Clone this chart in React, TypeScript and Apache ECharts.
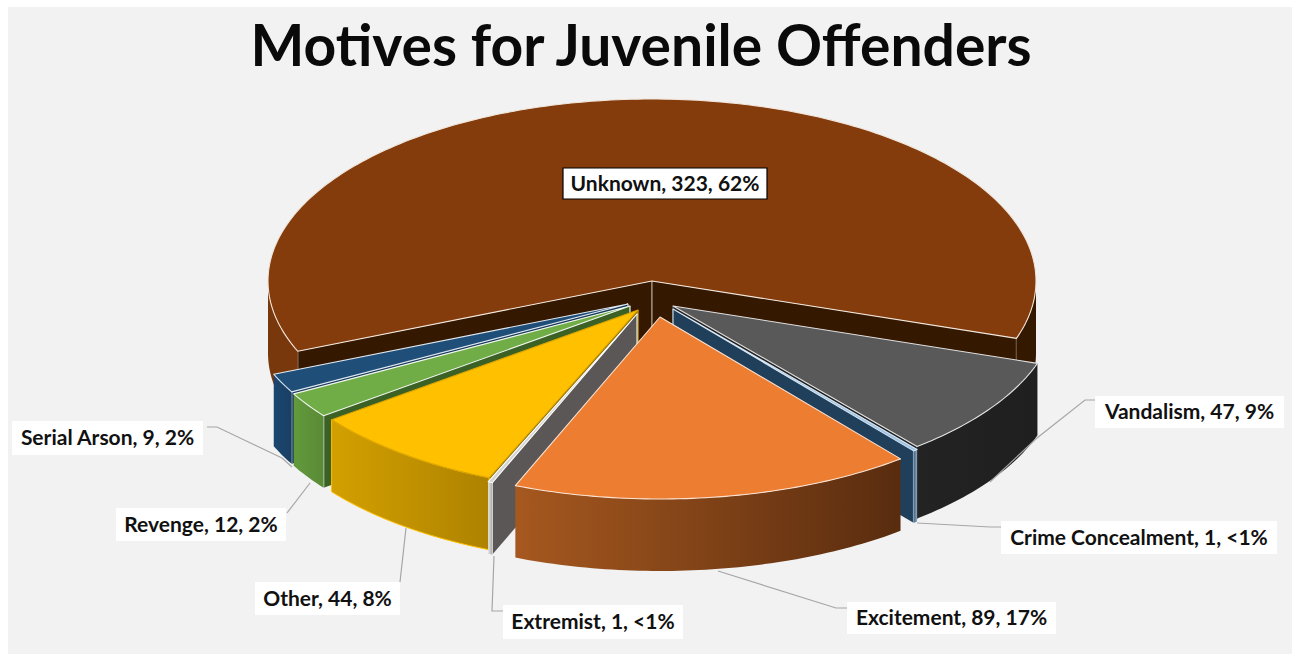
import React, { useEffect, useRef } from "react";
import * as echarts from "echarts";

const titleText = "Motives for Juvenile Offenders";
const categories = ["Unknown", "Vandalism", "Crime Concealment", "Excitement", "Extremist", "Other", "Revenge", "Serial Arson"];
const values = [323, 47, 1, 89, 1, 44, 12, 9];
const percentLabels = ["62%", "9%", "<1%", "17%", "<1%", "8%", "2%", "2%"];

// painter's order: far slices first
const drawOrder = [0, 1, 2, 7, 6, 5, 4, 3];
const firstAngle = 247.3;

// styles per slice (same order as categories)
const topColors = ["#843c0c", "#595959", "#9dc3e6", "#ed7d31", "#d4d4d4", "#ffc000", "#70ad47", "#1f4e79"];
const sideColors = [
  ["#78380b", "#351800"], ["#232323", "#1f1f1f"], ["#3b5f7e", "#8fa9c0"], ["#a6581f", "#592c0f"],
  ["#e4e4e4", "#a8a8a8"], ["#d3a000", "#ae8200"], ["#629a3c", "#5a8a36"], ["#1b4670", "#1a3f63"],
];
const wallColors = ["#351800", "#222222", "#203f5a", "#5c2e10", "#5b5757", "#8a6a00", "#3c6124", "#17395a"];
const edgeColors = ["#f1e6dc", "#e0e0e0", "#d6e6f5", "#fbe3d2", "#ffffff", "#d9a400", "#f2f7ee", "#dfe8f0"];
const seamColors = ["#a8988a", "#555555", "#c5d5e3", "#fbe3d2", "#e8e8e8", "#d9a400", "#eef3ea", "#c9d2da"];

// layout in page pixels; the chart's div starts at (8, 7)
const PAGE_X = 8;
const PAGE_Y = 7;
const radiusX = 384;
const radiusY = 182;
const depth = 72;
// exploded position of each slice's apex
const apexes = [[652, 281], [673, 306], [673, 309], [660, 317], [637, 314], [638, 310], [630, 306], [628, 304]];

const labelBoxes = [
  [563, 168, 204, 31], [1095, 396, 189, 32], [1001, 521, 276, 33], [847, 602, 209, 32],
  [503, 605, 180, 34], [255, 582, 145, 33], [116, 508, 170, 33], [12, 421, 191, 34],
];
const leaders: number[][][] = [
  [],
  [[1095, 400], [1085, 400], [1037, 438], [990, 482]],
  [[1001, 527], [990, 527], [917, 523]],
  [[847, 608], [836, 608], [718, 571]],
  [[503, 611], [492, 611], [494, 556]],
  [[400, 582], [406, 528]],
  [[287, 513], [310, 483]],
  [[207, 427], [217, 427], [282, 458], [292, 467]],
];

const total = values.reduce((a, b) => a + b, 0);
const rad = (d: number) => (d * Math.PI) / 180;
const spans = (() => {
  let a = firstAngle;
  return values.map((v) => {
    const s = a;
    a += (v / total) * 360;
    return [s, a];
  });
})();

function pt(i: number, deg: number, drop = 0): number[] {
  const [ax, ay] = apexes[i];
  return [ax + radiusX * Math.sin(rad(deg)) - PAGE_X, ay - radiusY * Math.cos(rad(deg)) + drop - PAGE_Y];
}
function arc(i: number, a: number, b: number, drop = 0): number[][] {
  const n = Math.max(2, Math.ceil(Math.abs(b - a)));
  const out: number[][] = [];
  for (let k = 0; k <= n; k++) out.push(pt(i, a + ((b - a) * k) / n, drop));
  return out;
}
const apexPt = (i: number, drop = 0) => [apexes[i][0] - PAGE_X, apexes[i][1] + drop - PAGE_Y];

function wall(i: number, deg: number) {
  const outer = pt(i, deg);
  const outerLow = pt(i, deg, depth);
  return [
    { type: "polygon", shape: { points: [apexPt(i), outer, outerLow, apexPt(i, depth)] }, style: { fill: wallColors[i] }, silent: true },
    { type: "line", shape: { x1: outer[0], y1: outer[1], x2: outerLow[0], y2: outerLow[1] }, style: { stroke: seamColors[i], lineWidth: 1.2 }, silent: true },
    { type: "line", shape: { x1: apexPt(i)[0], y1: apexPt(i)[1], x2: apexPt(i, depth)[0], y2: apexPt(i, depth)[1] }, style: { stroke: seamColors[i], lineWidth: 1.2 }, silent: true },
  ];
}

function sideSegment(i: number, a: number, b: number, fill: any) {
  const up = arc(i, a, b);
  const low = arc(i, a, b, depth).reverse();
  return {
    type: "polygon",
    shape: { points: up.concat(low) },
    style: { fill, stroke: i === 5 ? "#ffc000" : undefined, lineWidth: i === 5 ? 1 : 0 },
    silent: true,
  };
}

function renderSlice(_params: any, api: any) {
  const i = api.value(0) as number;
  const [s, e] = spans[i];
  const children: any[] = [];
  // cut walls facing the viewer
  const norm = (d: number) => ((d % 360) + 360) % 360;
  const sN = norm(s);
  const eN = norm(e);
  if (sN > 180) children.push(...wall(i, s));
  if (eN < 180) children.push(...wall(i, e));
  // outer rim, front half only (90..270 and the same +360)
  const [c0, c1] = sideColors[i];
  const grad = new echarts.graphic.LinearGradient(0, 0, 1, 0, [
    { offset: 0, color: c0 },
    { offset: 1, color: c1 },
  ]);
  const windows = [[90, 270], [450, 630]];
  const segs: number[][] = [];
  windows.forEach(([lo, hi]) => {
    const a = Math.max(s, lo);
    const b = Math.min(e, hi);
    if (b > a) segs.push([a, b]);
  });
  segs.forEach(([a, b]) => {
    const split = e - s > 180;
    const fill = split ? (a < 360 ? c0 : c1) : grad;
    children.push(sideSegment(i, a, b, fill));
  });
  // top face
  children.push({
    type: "polygon",
    shape: { points: [apexPt(i), ...arc(i, s, e)] },
    style: { fill: topColors[i], stroke: edgeColors[i], lineWidth: 1.1, lineJoin: "round" },
    silent: true,
  });
  return { type: "group", children };
}

function buildGraphics() {
  const els: any[] = [];
  categories.forEach((name, i) => {
    const [x, y, w, h] = labelBoxes[i];
    if (leaders[i].length) {
      els.push({
        type: "polyline",
        z: 10,
        shape: { points: leaders[i].map(([a, b]) => [a - PAGE_X, b - PAGE_Y]) },
        style: { stroke: "#a6a6a6", lineWidth: 1.2, fill: null },
        silent: true,
      });
    }
    els.push({
      type: "rect",
      z: 11,
      shape: { x: x - PAGE_X, y: y - PAGE_Y, width: w, height: h },
      style: { fill: "#ffffff", stroke: i === 0 ? "#000000" : undefined, lineWidth: i === 0 ? 1.2 : 0 },
      silent: true,
    });
    els.push({
      type: "text",
      z: 12,
      x: x - PAGE_X + w / 2,
      y: y - PAGE_Y + h / 2 - 1.5,
      style: {
        text: `${name}, ${values[i]}, ${percentLabels[i]}`,
        fill: "#111111",
        font: 'bold 21px Lato, "Open Sans", sans-serif',
        align: "center",
        verticalAlign: "middle",
      },
      silent: true,
    });
  });
  return els;
}

export default function App() {
  const ref = useRef<HTMLDivElement>(null);
  useEffect(() => {
    document.documentElement.style.overflow = "hidden";
    document.body.style.overflow = "hidden";
    const chart = echarts.init(ref.current!, undefined, { renderer: "svg" });
    chart.setOption({
      animation: false,
      backgroundColor: "#f2f2f2",
      title: {
        text: titleText,
        left: 628,
        top: 3,
        textAlign: "center",
        textStyle: { fontFamily: "Lato, sans-serif", fontWeight: "bold", fontSize: 57, color: "#0a0a0a" },
      },
      series: [
        {
          type: "custom",
          coordinateSystem: "none",
          clip: false,
          silent: true,
          renderItem: renderSlice,
          data: drawOrder.map((i) => ({ name: categories[i], value: [i, values[i]] })),
        },
      ],
      graphic: { elements: buildGraphics() },
    });
    return () => chart.dispose();
  }, []);
  return <div ref={ref} style={{ position: "absolute", left: PAGE_X, top: PAGE_Y, width: 1284, height: 647 }} />;
}
